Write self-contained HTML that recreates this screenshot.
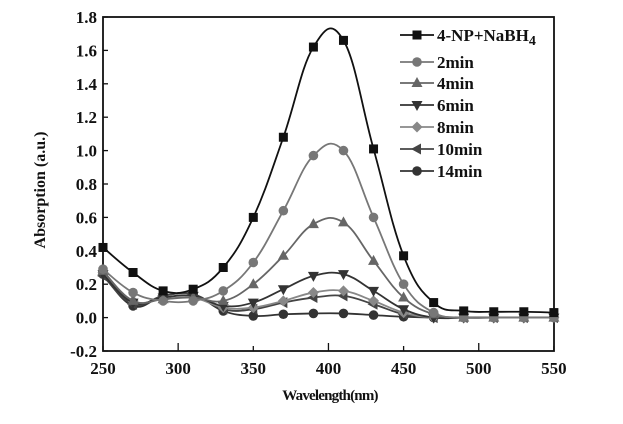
<!DOCTYPE html>
<html><head><meta charset="utf-8"><style>
body{margin:0;background:#fff;}
svg{display:block;font-family:"Liberation Serif",serif;font-weight:bold;}
</style></head><body>
<svg id="s" width="623" height="424" xmlns="http://www.w3.org/2000/svg">
<rect x="0" y="0" width="623" height="424" fill="#fff"/>
<rect x="103" y="17" width="451" height="334" fill="none" stroke="#111" stroke-width="1.8"/>
<g id="ax" font-size="17" fill="#111"></g>
<text x="45" y="190" font-size="16" text-anchor="middle" transform="rotate(-90 45 190)" fill="#111">Absorption (a.u.)</text>
<text x="330" y="400" font-size="15" text-anchor="middle" fill="#111" letter-spacing="-0.8">Wavelength(nm)</text>
<g id="d"></g>
<g id="lg" font-size="17" fill="#111"></g>
</svg>
<script>
var NS="http://www.w3.org/2000/svg";
function X(w){return 103+(w-250)*1.503;}
function Y(v){return 17+(1.8-v)*167;}
function el(t,a,p,txt){var e=document.createElementNS(NS,t);for(var k in a)e.setAttribute(k,a[k]);if(txt!=null)e.textContent=txt;p.appendChild(e);return e;}
var ax=document.getElementById('ax');
for(var v=-0.2;v<=1.81;v+=0.2){var y=Y(v);el('text',{x:97,y:y+6,'text-anchor':'end'},ax,(Math.abs(v)<1e-9?0:v).toFixed(1));el('line',{x1:103,x2:108,y1:y,y2:y,stroke:'#111','stroke-width':1.3},ax);}
for(var w=250;w<=550;w+=50){var x=X(w);el('text',{x:x,y:374,'text-anchor':'middle'},ax,w);el('line',{x1:x,x2:x,y1:351,y2:w%100==0?343:346,stroke:'#111','stroke-width':1.3},ax);}
var wl=[250,270,290,310,330,350,370,390,410,430,450,470,490,510,530,550];
var S=[
{n:'4-NP+NaBH4',c:'#111',m:'sq',v:[.42,.27,.16,.17,.30,.60,1.08,1.62,1.66,1.01,.37,.09,.04,.035,.035,.03]},
{n:'2min',c:'#777',m:'ci',v:[.29,.15,.10,.10,.16,.33,.64,.97,1.0,.60,.20,.03,0,0,0,0]},
{n:'4min',c:'#666',m:'tu',v:[.28,.10,.11,.12,.10,.20,.37,.56,.57,.34,.12,.02,0,0,0,0]},
{n:'6min',c:'#333',m:'td',v:[.26,.09,.12,.13,.07,.09,.17,.25,.26,.16,.05,0,0,0,0,0]},
{n:'8min',c:'#888',m:'di',v:[.27,.10,.11,.12,.06,.06,.10,.15,.16,.10,.03,0,0,0,0,0]},
{n:'10min',c:'#444',m:'tl',v:[.25,.08,.13,.14,.05,.05,.09,.12,.13,.08,.02,0,0,0,0,0]},
{n:'14min',c:'#333',m:'ci',v:[.26,.07,.13,.14,.04,.01,.02,.025,.025,.015,.005,0,0,0,0,0]}];
function mk(m,x,y,c,p){
 if(m=='sq')el('rect',{x:x-4.5,y:y-4.5,width:9,height:9,fill:c},p);
 else if(m=='ci')el('circle',{cx:x,cy:y,r:4.8,fill:c},p);
 else if(m=='tu')el('polygon',{points:(x)+','+(y-6)+' '+(x-5.5)+','+(y+4)+' '+(x+5.5)+','+(y+4),fill:c},p);
 else if(m=='td')el('polygon',{points:(x)+','+(y+6)+' '+(x-5.5)+','+(y-4)+' '+(x+5.5)+','+(y-4),fill:c},p);
 else if(m=='di')el('polygon',{points:x+','+(y-5.5)+' '+(x+5.5)+','+y+' '+x+','+(y+5.5)+' '+(x-5.5)+','+y,fill:c},p);
 else if(m=='tl')el('polygon',{points:(x-6)+','+y+' '+(x+4)+','+(y-5.5)+' '+(x+4)+','+(y+5.5),fill:c},p);
}
var d=document.getElementById('d');
S.slice().reverse().forEach(function(s){
 var P=wl.map(function(w,i){return [X(w),Y(s.v[i])];});
 var p='M'+P[0][0]+','+P[0][1];
 for(var i=0;i<P.length-1;i++){var a=P[Math.max(0,i-1)],b=P[i],c=P[i+1],e=P[Math.min(P.length-1,i+2)];
  p+=' C'+(b[0]+(c[0]-a[0])/5)+','+(b[1]+(c[1]-a[1])/5)+' '+(c[0]-(e[0]-b[0])/5)+','+(c[1]-(e[1]-b[1])/5)+' '+c[0]+','+c[1];}
 el('path',{d:p,fill:'none',stroke:s.c,'stroke-width':1.8},d);
 P.forEach(function(q){mk(s.m,q[0],q[1],s.c,d);});
});
var lg=document.getElementById('lg');var ly=[35,62,83,105,127,149,171];
S.forEach(function(s,i){var y=ly[i];el('line',{x1:400,x2:434,y1:y,y2:y,stroke:s.c,'stroke-width':1.8},lg);mk(s.m,417,y,s.c,lg);
 var t=el('text',{x:437,y:y+6},lg,i==0?'4-NP+NaBH':s.n);if(i==0){el('tspan',{dy:4,'font-size':14},t,'4');}});
</script>
</body></html>
